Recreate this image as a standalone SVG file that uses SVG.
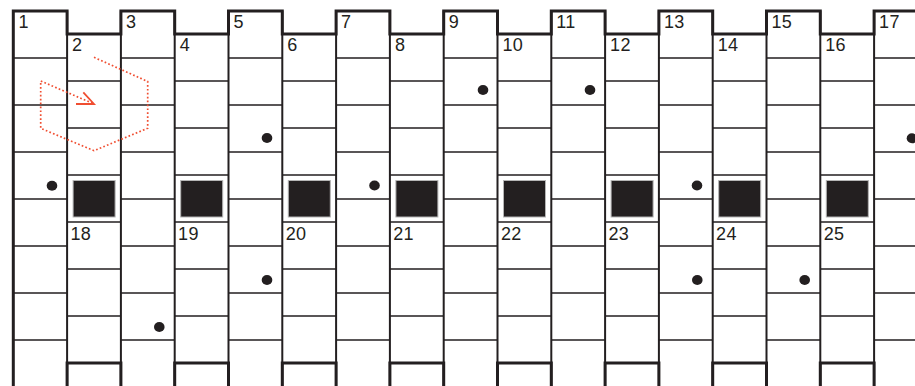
<svg xmlns="http://www.w3.org/2000/svg" xmlns:xlink="http://www.w3.org/1999/xlink" width="915" height="386" viewBox="0 0 915 386">
<style>
.thin{fill:none;stroke:#231f20;stroke-width:1.4}
.vert{fill:none;stroke:#231f20;stroke-width:2}
.thick{fill:none;stroke:#231f20;stroke-width:3;stroke-linejoin:miter;stroke-linecap:square}
.sq{fill:#231f20;stroke:#b5b5b5;stroke-width:1}
.dot{fill:#231f20}
.lbl{font-family:"Liberation Sans",Arial,sans-serif;font-size:18px;letter-spacing:0.3px;fill:#231f20}
.route{fill:none;stroke:#f04e31;stroke-width:1.7;stroke-dasharray:1.7 2.2}
.head{fill:none;stroke:#f04e31;stroke-width:1.8}
</style>
<defs>
<g id="oddRows"><path class="thin" d="M0,58H53.8M0,105H53.8M0,152H53.8M0,199H53.8M0,246H53.8M0,293H53.8M0,340H53.8"/></g>
<g id="evenRows"><path class="thin" d="M0,81H53.8M0,128H53.8M0,175H53.8M0,222H53.8M0,269H53.8M0,316H53.8"/><rect class="sq" x="6" y="180.5" width="42" height="36.5"/><path class="thick" d="M0,390V363H53.8V390"/></g>
</defs>
<rect width="915" height="386" fill="#fff"/>
<g id="rows">
<use xlink:href="#oddRows" x="13.3"/>
<use xlink:href="#oddRows" x="120.9"/>
<use xlink:href="#oddRows" x="228.5"/>
<use xlink:href="#oddRows" x="336.1"/>
<use xlink:href="#oddRows" x="443.7"/>
<use xlink:href="#oddRows" x="551.3"/>
<use xlink:href="#oddRows" x="658.9"/>
<use xlink:href="#oddRows" x="766.5"/>
<use xlink:href="#oddRows" x="874.1"/>
<use xlink:href="#evenRows" x="67.1"/>
<use xlink:href="#evenRows" x="174.7"/>
<use xlink:href="#evenRows" x="282.3"/>
<use xlink:href="#evenRows" x="389.9"/>
<use xlink:href="#evenRows" x="497.5"/>
<use xlink:href="#evenRows" x="605.1"/>
<use xlink:href="#evenRows" x="712.7"/>
<use xlink:href="#evenRows" x="820.3"/>
</g>
<g id="columns">
<path class="vert" d="M67.1,11V386M120.9,11V386M174.7,11V386M228.5,11V386M282.3,11V386M336.1,11V386M389.9,11V386M443.7,11V386M497.5,11V386M551.3,11V386M605.1,11V386M658.9,11V386M712.7,11V386M766.5,11V386M820.3,11V386M874.1,11V386"/>
<path class="thick" d="M13.3,390V11H67.1V34H120.9V11H174.7V34H228.5V11H282.3V34H336.1V11H389.9V34H443.7V11H497.5V34H551.3V11H605.1V34H658.9V11H712.7V34H766.5V11H820.3V34H874.1V11H918"/>
</g>
<g id="labels">
<text class="lbl" x="18.5" y="27.5">1</text>
<text class="lbl" x="72.1" y="51">2</text>
<text class="lbl" x="125.9" y="27.5">3</text>
<text class="lbl" x="179.7" y="51">4</text>
<text class="lbl" x="233.5" y="27.5">5</text>
<text class="lbl" x="287.3" y="51">6</text>
<text class="lbl" x="341.1" y="27.5">7</text>
<text class="lbl" x="394.9" y="51">8</text>
<text class="lbl" x="448.7" y="27.5">9</text>
<text class="lbl" x="502.5" y="51">10</text>
<text class="lbl" x="556.3" y="27.5">11</text>
<text class="lbl" x="610.1" y="51">12</text>
<text class="lbl" x="663.9" y="27.5">13</text>
<text class="lbl" x="717.7" y="51">14</text>
<text class="lbl" x="771.5" y="27.5">15</text>
<text class="lbl" x="825.3" y="51">16</text>
<text class="lbl" x="879.1" y="27.5">17</text>
<text class="lbl" x="70.5" y="240">18</text>
<text class="lbl" x="178.1" y="240">19</text>
<text class="lbl" x="285.7" y="240">20</text>
<text class="lbl" x="393.3" y="240">21</text>
<text class="lbl" x="500.9" y="240">22</text>
<text class="lbl" x="608.5" y="240">23</text>
<text class="lbl" x="716.1" y="240">24</text>
<text class="lbl" x="823.7" y="240">25</text>
</g>
<g id="dots">
<ellipse class="dot" cx="483" cy="90" rx="5.3" ry="5"/>
<ellipse class="dot" cx="590" cy="90" rx="5.3" ry="5"/>
<ellipse class="dot" cx="267" cy="138" rx="5.3" ry="5"/>
<ellipse class="dot" cx="912" cy="138.3" rx="5.3" ry="5"/>
<ellipse class="dot" cx="52" cy="185.7" rx="5.3" ry="5"/>
<ellipse class="dot" cx="374.5" cy="185.5" rx="5.3" ry="5"/>
<ellipse class="dot" cx="697" cy="185.5" rx="5.3" ry="5"/>
<ellipse class="dot" cx="267" cy="280" rx="5.3" ry="5"/>
<ellipse class="dot" cx="697.3" cy="280" rx="5.3" ry="5"/>
<ellipse class="dot" cx="804.7" cy="280" rx="5.3" ry="5"/>
<ellipse class="dot" cx="159.3" cy="327" rx="5.3" ry="5"/>
</g>
<g id="route">
<path class="route" d="M94,57.3L147.7,81.5V128.3L94,150.7L40.7,128.3V81L93,103.5"/>
<path class="head" d="M76,104H94L83.3,92.3"/>
</g>
</svg>
